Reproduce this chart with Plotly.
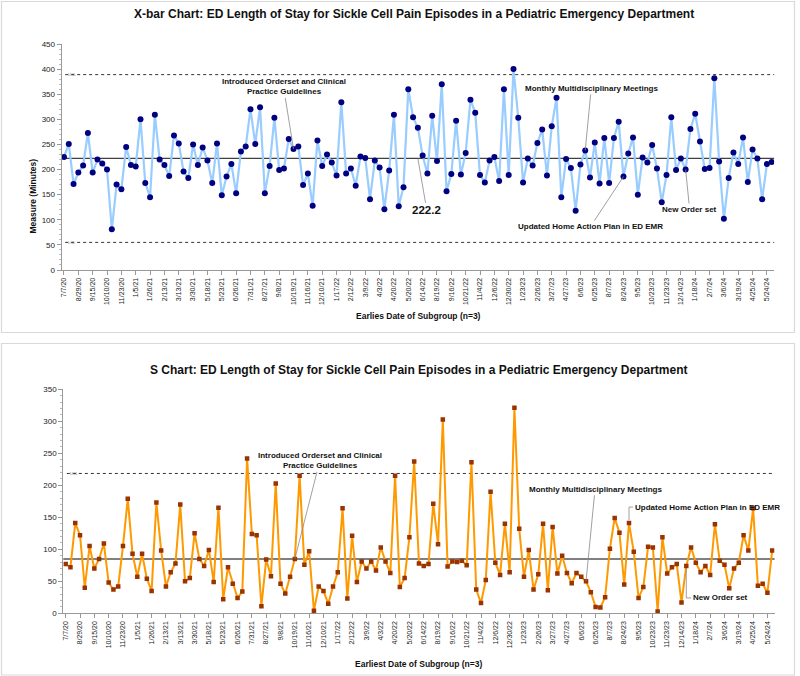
import plotly.graph_objects as go

# ---------------- data ----------------
tick_labels = ["7/7/20", "8/29/20", "9/15/20", "10/10/20", "11/23/20", "1/5/21", "1/26/21", "2/13/21",
               "3/13/21", "3/30/21", "5/18/21", "5/23/21", "6/26/21", "7/31/21", "8/27/21", "9/8/21",
               "10/19/21", "11/16/21", "12/10/21", "1/17/22", "2/12/22", "3/9/22", "4/3/22", "4/20/22",
               "5/20/22", "6/14/22", "8/19/22", "9/16/22", "10/21/22", "11/4/22", "12/6/22", "12/30/22",
               "1/23/23", "2/26/23", "3/27/23", "4/27/23", "6/6/23", "6/25/23", "8/7/23", "8/24/23",
               "9/5/23", "10/23/23", "11/23/23", "12/14/23", "1/18/24", "2/7/24", "3/6/24", "3/19/24",
               "4/25/24", "5/24/24"]

xbar_values = [225, 251, 171, 194, 208, 273, 194, 220, 212, 200, 81, 170, 161, 245, 209, 206, 300, 173,
               145, 309, 220, 209, 187, 268, 252, 196, 183, 250, 209, 244, 218, 173, 252,
               149, 186, 211, 153, 236, 246, 320, 251, 324, 153, 207, 303, 199, 202, 261, 241, 246, 169,
               192, 128, 258, 207, 230, 214, 188, 334, 192, 202, 168, 226, 223, 141, 218, 204, 121, 198,
               309, 127, 165, 360,
               304, 283, 228, 192, 307, 217, 370, 157, 191, 297, 190, 233, 339, 313, 189, 174, 218, 225,
               177, 360, 189, 400, 303, 174, 222, 208, 253, 280, 188, 286, 343, 145, 221, 203, 118, 210,
               238, 184, 254, 172,
               263, 173, 263, 295, 186, 232, 264, 150, 224, 214, 249, 202, 135, 189, 304, 199, 222, 200,
               281, 311, 256, 201, 203, 382, 216, 102, 183, 234, 211, 264, 175, 240, 222, 141, 211, 215]

s_values = [77, 72, 141, 122, 40, 105, 70, 85, 109, 48, 37, 42, 105, 179, 93, 57, 93, 54, 35, 173, 98,
            42, 64, 78, 170, 50, 55, 125, 85, 74, 99, 49, 165,
            22, 72, 46, 24, 34, 242, 124, 122, 11, 84, 58, 203, 46, 31, 57, 85, 215, 76, 97, 4,
            42, 35, 15, 42, 64, 164, 23, 121, 49, 81, 70, 81, 67, 103, 81, 63, 215, 41, 55, 119,
            237, 78, 74, 77, 171, 108, 303, 73, 81, 80, 82, 75, 236, 37, 16, 52, 190, 79, 60, 140,
            64, 321, 132, 57, 99, 37, 61, 140, 36, 135, 62, 90, 63, 47, 63, 57, 50, 33, 10, 9,
            25, 101, 149, 126, 45, 141, 96, 24, 41, 104, 103, 3, 119, 62, 72, 77, 17, 74, 103, 79,
            64, 74, 60, 139, 82, 76, 39, 70, 79, 122, 98, 164, 43, 46, 32, 98]

xbar_cl, xbar_ucl, xbar_lcl = 222.2, 389.0, 55.0
s_cl, s_ucl = 85.0, 218.5

idx = list(range(len(xbar_values)))
tickvals = list(range(0, 3 * len(tick_labels), 3))

W, H = 800, 676
def px(v): return v / W
def py(v): return 1 - v / H

FONT = "Liberation Sans, Arial, sans-serif"
TXT = "#222222"

fig = go.Figure()

# X-bar chart
fig.add_trace(go.Scatter(x=idx, y=xbar_values, mode="lines+markers",
                         line=dict(color="#99CCFF", width=2.2),
                         marker=dict(color="#000080", size=6, symbol="circle"),
                         xaxis="x", yaxis="y", showlegend=False, hoverinfo="y"))
# S chart
fig.add_trace(go.Scatter(x=idx, y=s_values, mode="lines+markers",
                         line=dict(color="#FF9900", width=2),
                         marker=dict(color="#993300", size=4.5, symbol="square"),
                         xaxis="x2", yaxis="y2", showlegend=False, hoverinfo="y"))

shapes = []
# panel borders
shapes.append(dict(type="rect", xref="paper", yref="paper", x0=px(1.5), x1=px(794.5),
                   y0=py(332.5), y1=py(1.5), line=dict(color="#d9d9d9", width=1.2)))
shapes.append(dict(type="rect", xref="paper", yref="paper", x0=px(1.5), x1=px(794.5),
                   y0=py(675), y1=py(343.5), line=dict(color="#d9d9d9", width=1.2)))
# control lines top
shapes.append(dict(type="line", xref="x domain", yref="y", x0=0, x1=1, y0=xbar_cl, y1=xbar_cl,
                   line=dict(color="#404040", width=1.2), layer="below"))
for v in (xbar_ucl, xbar_lcl):
    shapes.append(dict(type="line", xref="x domain", yref="y", x0=0.005, x1=1, y0=v, y1=v,
                       line=dict(color="#333333", width=1, dash="dot"), layer="below"))
# control lines bottom
shapes.append(dict(type="line", xref="x2 domain", yref="y2", x0=0, x1=1, y0=s_cl, y1=s_cl,
                   line=dict(color="#808080", width=2), layer="below"))
shapes.append(dict(type="line", xref="x2 domain", yref="y2", x0=0.005, x1=0.998, y0=s_ucl, y1=s_ucl,
                   line=dict(color="#333333", width=1, dash="dot"), layer="below"))
# connector lines (bottom chart, elbow style)
shapes.append(dict(type="line", xref="x2", yref="y2", xsizemode="scaled", ysizemode="pixel",
                   yanchor=s_values[118], x0=118, x1=118, y0=3, y1=16,
                   line=dict(color="#888888", width=0.8)))
shapes.append(dict(type="line", xref="x2", yref="y2", ysizemode="pixel", xsizemode="pixel",
                   xanchor=118, yanchor=s_values[118], x0=0, x1=4, y0=16, y1=16,
                   line=dict(color="#888888", width=0.8)))
shapes.append(dict(type="line", xref="x2", yref="y2", ysizemode="pixel",
                   yanchor=s_values[130], x0=130, x1=130, y0=-3, y1=-32,
                   line=dict(color="#888888", width=0.8)))
shapes.append(dict(type="line", xref="x2", yref="y2", ysizemode="pixel", xsizemode="pixel",
                   xanchor=130, yanchor=s_values[130], x0=0, x1=5, y0=-32, y1=-32,
                   line=dict(color="#888888", width=0.8)))

ann = []
def title(text, x, y, size):
    ann.append(dict(text=f"<b>{text}</b>", xref="paper", yref="paper", x=px(x), y=py(y),
                    showarrow=False, font=dict(size=size, color="#111111", family=FONT),
                    xanchor="center", yanchor="middle"))

title("X-bar Chart: ED Length of Stay for Sickle Cell Pain Episodes in a Pediatric Emergency Department", 414, 14, 12)
title("S Chart: ED Length of Stay for Sickle Cell Pain Episodes in a Pediatric Emergency Department", 418, 370, 12)
title("Earlies Date of Subgroup (n=3)", 418, 316, 8.5)
title("Earliest Date of Subgroup (n=3)", 418, 664, 8.5)
ann.append(dict(text="<b>Measure (Minutes)</b>", xref="paper", yref="paper", x=px(25), y=py(157),
                showarrow=False, textangle=-90, font=dict(size=8.5, color="#111111", family=FONT)))

def small(text, xr, yr, x, y):
    ann.append(dict(text=text, xref=xr, yref=yr, x=x, y=y, showarrow=False,
                    font=dict(size=4, color="#777777", family=FONT), xanchor="left", yanchor="middle"))
small("UCL", "x domain", "y", 0.006, xbar_ucl)
small("LCL", "x domain", "y", 0.006, xbar_lcl)
small("UCL", "x2 domain", "y2", 0.006, s_ucl)

def callout(text, xr, yr, x, y, ax, ay, size=8):
    ann.append(dict(text=f"<b>{text}</b>", xref=xr, yref=yr, x=x, y=y, ax=ax, ay=ay,
                    showarrow=True, arrowhead=0, arrowwidth=0.8, arrowcolor="#888888",
                    font=dict(size=size, color="#111111", family=FONT), align="center"))

callout("Introduced Orderset and Clinical<br>Practice Guidelines", "x", "y", 48, xbar_values[48], -10, -62)
callout("222.2", "x", "y", 74, xbar_cl, 9, 52, size=11.5)
callout("Monthly Multidisciplinary Meetings", "x", "y", 109, xbar_values[109], 6, -62)
callout("Updated Home Action Plan in ED EMR", "x", "y", 117, xbar_values[117], -33, 50)
callout("New Order set", "x", "y", 130, xbar_values[130], 4, 40)

callout("Introduced Orderset and Clinical<br>Practice Guidelines", "x2", "y2", 48, s_values[48], 25, -98)
callout("Monthly Multidisciplinary Meetings", "x2", "y2", 109, s_values[109], 9, -92)
# bottom: text only, connectors drawn as shapes
ann.append(dict(text="<b>Updated Home Action Plan in ED EMR</b>", xref="x2", yref="y2",
                x=118, y=s_values[118], xshift=4, yshift=16, showarrow=False, xanchor="left",
                font=dict(size=8, color="#111111", family=FONT)))
ann.append(dict(text="<b>New Order set</b>", xref="x2", yref="y2",
                x=130, y=s_values[130], xshift=5, yshift=-32, showarrow=False, xanchor="left",
                font=dict(size=8, color="#111111", family=FONT)))

xcommon = dict(range=[-0.5, len(idx) - 0.5], tickmode="array", tickvals=tickvals, ticktext=tick_labels,
               tickangle=-90, ticks="outside", ticklen=4, tickcolor="#999999", showline=True,
               linecolor="#999999", showgrid=False, zeroline=False, automargin=False,
               tickfont=dict(size=7, color=TXT, family=FONT))
ycommon = dict(ticks="outside", ticklen=4, tickcolor="#999999", showline=True, linecolor="#999999",
               showgrid=False, zeroline=False, automargin=False,
               tickfont=dict(size=8, color=TXT, family=FONT),
               minor=dict(ticks="outside", ticklen=2, dtick=10, tickcolor="#bbbbbb", showgrid=False))

fig.update_layout(
    width=W, height=H, autosize=False,
    margin=dict(l=0, r=0, t=0, b=0),
    paper_bgcolor="white", plot_bgcolor="white",
    showlegend=False,
    xaxis=dict(domain=[px(61.6), px(774.1)], anchor="y", **xcommon),
    yaxis=dict(domain=[py(270), py(44)], anchor="x", range=[0, 450], dtick=50, **ycommon),
    xaxis2=dict(domain=[px(63.3), px(774.6)], anchor="y2", **xcommon),
    yaxis2=dict(domain=[py(613.3), py(389.3)], anchor="x2", range=[0, 350], dtick=50, **ycommon),
    shapes=shapes,
    annotations=ann,
)

fig.write_html("out.html")
